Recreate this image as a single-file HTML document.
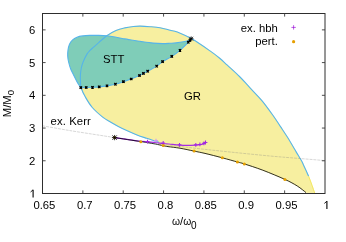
<!DOCTYPE html><html><head><meta charset="utf-8"><style>html,body{margin:0;padding:0;background:#fff;width:346px;height:242px;overflow:hidden}</style></head><body><svg width="346" height="242" viewBox="0 0 346 242" style="position:absolute;left:0;top:0;will-change:transform">
<rect width="346" height="242" fill="#fff"/>
<path d="M314.70,193.00 C314.25,191.72 313.02,188.10 312.00,185.30 C310.98,182.50 309.98,179.52 308.60,176.20 C307.22,172.88 304.82,167.83 303.70,165.40 C302.58,162.97 303.13,163.82 301.90,161.60 C300.67,159.38 298.70,156.15 296.30,152.10 C293.90,148.05 290.13,141.55 287.50,137.30 C284.87,133.05 282.97,130.32 280.50,126.60 C278.03,122.88 275.73,119.25 272.70,115.00 C269.67,110.75 265.53,105.05 262.30,101.10 C259.07,97.15 255.75,93.95 253.30,91.30 C250.85,88.65 249.90,87.67 247.60,85.20 C245.30,82.73 242.88,79.83 239.50,76.50 C236.12,73.17 230.55,68.20 227.30,65.20 C224.05,62.20 222.88,60.88 220.00,58.50 C217.12,56.12 214.65,54.13 210.00,50.90 C205.35,47.67 197.55,42.23 192.10,39.10 C186.65,35.97 180.98,33.58 177.30,32.10 C173.62,30.62 172.88,30.92 170.00,30.20 C167.12,29.48 163.33,28.38 160.00,27.80 C156.67,27.22 153.28,26.98 150.00,26.70 C146.72,26.42 143.07,26.13 140.30,26.10 C137.53,26.07 136.00,26.20 133.40,26.50 C130.80,26.80 127.60,27.23 124.70,27.90 C121.80,28.57 118.98,29.20 116.00,30.50 C113.02,31.80 109.68,33.68 106.80,35.70 C103.92,37.72 100.92,40.68 98.70,42.60 C96.48,44.52 94.95,45.90 93.50,47.20 C92.05,48.50 91.07,49.28 90.00,50.40 C88.93,51.52 88.25,51.97 87.10,53.90 C85.95,55.83 84.07,59.65 83.10,62.00 C82.13,64.35 81.75,65.83 81.30,68.00 C80.85,70.17 80.53,72.67 80.40,75.00 C80.27,77.33 80.37,79.83 80.50,82.00 C80.63,84.17 80.38,85.48 81.20,88.00 C82.02,90.52 83.55,93.85 85.40,97.10 C87.25,100.35 89.42,104.17 92.30,107.50 C95.18,110.83 99.75,114.72 102.70,117.10 C105.65,119.48 107.40,120.25 110.00,121.80 C112.60,123.35 115.42,124.92 118.30,126.40 C121.18,127.88 124.18,129.28 127.30,130.70 C130.42,132.12 133.77,133.63 137.00,134.90 C140.23,136.17 143.70,137.28 146.70,138.30 C149.70,139.32 152.95,140.33 155.00,141.00 C157.05,141.67 158.33,142.08 159.00,142.30 L159,144.6 L163.20,145.70 C164.00,145.85 165.20,146.18 168.00,146.60 C170.80,147.02 175.65,147.45 180.00,148.20 C184.35,148.95 189.93,150.23 194.10,151.10 C198.27,151.97 200.30,152.28 205.00,153.40 C209.70,154.52 216.90,156.37 222.30,157.80 C227.70,159.23 233.73,160.98 237.40,162.00 C241.07,163.02 240.07,162.53 244.30,163.90 C248.53,165.27 256.03,167.62 262.80,170.20 C269.57,172.78 279.15,176.77 284.90,179.40 C290.65,182.03 293.78,183.80 297.30,186.00 C300.82,188.20 304.55,191.50 306.00,192.60 Z" fill="#f7efa0" stroke="#f7efa0" stroke-width="0.8"/>
<path d="M80.80,87.60 C80.25,86.77 78.62,84.53 77.50,82.60 C76.38,80.67 75.23,78.27 74.10,76.00 C72.97,73.73 71.62,71.33 70.70,69.00 C69.78,66.67 69.10,64.17 68.60,62.00 C68.10,59.83 67.80,58.00 67.70,56.00 C67.60,54.00 67.70,51.97 68.00,50.00 C68.30,48.03 68.77,45.85 69.50,44.20 C70.23,42.55 71.15,41.27 72.40,40.10 C73.65,38.93 75.27,37.90 77.00,37.20 C78.73,36.50 80.68,36.20 82.80,35.90 C84.92,35.60 87.17,35.48 89.70,35.40 C92.23,35.32 95.15,35.33 98.00,35.40 C100.85,35.47 103.97,35.53 106.80,35.80 C109.63,36.07 112.02,36.48 115.00,37.00 C117.98,37.52 122.20,38.43 124.70,38.90 C127.20,39.37 127.18,39.35 130.00,39.80 C132.82,40.25 137.75,41.05 141.60,41.60 C145.45,42.15 149.63,42.77 153.10,43.10 C156.57,43.43 159.58,43.57 162.40,43.60 C165.22,43.63 167.73,43.42 170.00,43.30 C172.27,43.18 173.77,43.15 176.00,42.90 C178.23,42.65 181.30,42.22 183.40,41.80 C185.50,41.38 187.25,40.87 188.60,40.40 C189.95,39.93 191.02,39.23 191.50,39.00 L190.60,39.60 C190.27,40.03 190.37,40.42 188.60,42.20 C186.83,43.98 182.80,47.93 180.00,50.30 C177.20,52.67 174.70,54.52 171.80,56.40 C168.90,58.28 165.12,59.98 162.60,61.60 C160.08,63.22 159.18,64.50 156.70,66.10 C154.22,67.70 149.92,69.98 147.70,71.20 C145.48,72.42 144.77,72.68 143.40,73.40 C142.03,74.12 141.53,74.57 139.50,75.50 C137.47,76.43 133.88,77.97 131.20,79.00 C128.52,80.03 126.03,80.83 123.40,81.70 C120.77,82.57 118.13,83.50 115.40,84.20 C112.67,84.90 109.70,85.45 107.00,85.90 C104.30,86.35 101.62,86.67 99.20,86.90 C96.78,87.13 94.67,87.20 92.50,87.30 C90.33,87.40 88.15,87.45 86.20,87.50 C84.25,87.55 81.70,87.58 80.80,87.60 Z" fill="#7fcdb8" stroke="none"/>
<path d="M308.60,176.20 C307.78,174.40 304.82,167.83 303.70,165.40 C302.58,162.97 303.13,163.82 301.90,161.60 C300.67,159.38 298.70,156.15 296.30,152.10 C293.90,148.05 290.13,141.55 287.50,137.30 C284.87,133.05 282.97,130.32 280.50,126.60 C278.03,122.88 275.73,119.25 272.70,115.00 C269.67,110.75 265.53,105.05 262.30,101.10 C259.07,97.15 255.75,93.95 253.30,91.30 C250.85,88.65 249.90,87.67 247.60,85.20 C245.30,82.73 242.88,79.83 239.50,76.50 C236.12,73.17 230.55,68.20 227.30,65.20 C224.05,62.20 222.88,60.88 220.00,58.50 C217.12,56.12 214.65,54.13 210.00,50.90 C205.35,47.67 197.55,42.23 192.10,39.10 C186.65,35.97 180.98,33.58 177.30,32.10 C173.62,30.62 172.88,30.92 170.00,30.20 C167.12,29.48 163.33,28.38 160.00,27.80 C156.67,27.22 153.28,26.98 150.00,26.70 C146.72,26.42 143.07,26.13 140.30,26.10 C137.53,26.07 136.00,26.20 133.40,26.50 C130.80,26.80 127.60,27.23 124.70,27.90 C121.80,28.57 118.98,29.20 116.00,30.50 C113.02,31.80 109.68,33.68 106.80,35.70 C103.92,37.72 100.92,40.68 98.70,42.60 C96.48,44.52 94.95,45.90 93.50,47.20 C92.05,48.50 91.07,49.28 90.00,50.40 C88.93,51.52 88.25,51.97 87.10,53.90 C85.95,55.83 84.07,59.65 83.10,62.00 C82.13,64.35 81.75,65.83 81.30,68.00 C80.85,70.17 80.53,72.67 80.40,75.00 C80.27,77.33 80.37,79.83 80.50,82.00 C80.63,84.17 80.38,85.48 81.20,88.00 C82.02,90.52 83.55,93.85 85.40,97.10 C87.25,100.35 89.42,104.17 92.30,107.50 C95.18,110.83 99.75,114.72 102.70,117.10 C105.65,119.48 107.40,120.25 110.00,121.80 C112.60,123.35 115.42,124.92 118.30,126.40 C121.18,127.88 124.18,129.28 127.30,130.70 C130.42,132.12 133.77,133.63 137.00,134.90 C140.23,136.17 143.70,137.28 146.70,138.30 C149.70,139.32 152.95,140.33 155.00,141.00 C157.05,141.67 158.33,142.08 159.00,142.30" fill="none" stroke="#56b4e9" stroke-width="1.1"/>
<path d="M80.80,87.60 C80.25,86.77 78.62,84.53 77.50,82.60 C76.38,80.67 75.23,78.27 74.10,76.00 C72.97,73.73 71.62,71.33 70.70,69.00 C69.78,66.67 69.10,64.17 68.60,62.00 C68.10,59.83 67.80,58.00 67.70,56.00 C67.60,54.00 67.70,51.97 68.00,50.00 C68.30,48.03 68.77,45.85 69.50,44.20 C70.23,42.55 71.15,41.27 72.40,40.10 C73.65,38.93 75.27,37.90 77.00,37.20 C78.73,36.50 80.68,36.20 82.80,35.90 C84.92,35.60 87.17,35.48 89.70,35.40 C92.23,35.32 95.15,35.33 98.00,35.40 C100.85,35.47 103.97,35.53 106.80,35.80 C109.63,36.07 112.02,36.48 115.00,37.00 C117.98,37.52 122.20,38.43 124.70,38.90 C127.20,39.37 127.18,39.35 130.00,39.80 C132.82,40.25 137.75,41.05 141.60,41.60 C145.45,42.15 149.63,42.77 153.10,43.10 C156.57,43.43 159.58,43.57 162.40,43.60 C165.22,43.63 167.73,43.42 170.00,43.30 C172.27,43.18 173.77,43.15 176.00,42.90 C178.23,42.65 181.30,42.22 183.40,41.80 C185.50,41.38 187.25,40.87 188.60,40.40 C189.95,39.93 191.02,39.23 191.50,39.00" fill="none" stroke="#56b4e9" stroke-width="1.1"/>
<path d="M80.80,87.60 C81.70,87.58 84.25,87.55 86.20,87.50 C88.15,87.45 90.33,87.40 92.50,87.30 C94.67,87.20 96.78,87.13 99.20,86.90 C101.62,86.67 104.30,86.35 107.00,85.90 C109.70,85.45 112.67,84.90 115.40,84.20 C118.13,83.50 120.77,82.57 123.40,81.70 C126.03,80.83 128.52,80.03 131.20,79.00 C133.88,77.97 137.47,76.43 139.50,75.50 C141.53,74.57 142.03,74.12 143.40,73.40 C144.77,72.68 145.48,72.42 147.70,71.20 C149.92,69.98 154.22,67.70 156.70,66.10 C159.18,64.50 160.08,63.22 162.60,61.60 C165.12,59.98 168.90,58.28 171.80,56.40 C174.70,54.52 177.20,52.67 180.00,50.30 C182.80,47.93 186.83,43.98 188.60,42.20 C190.37,40.42 190.27,40.03 190.60,39.60" fill="none" stroke="#56b4e9" stroke-width="1.1"/>
<path d="M308.6,176.2 Q310.5,181 312,185.3 T314.7,193" fill="none" stroke="#f0e442" stroke-width="0.7"/>
<path d="M42.50,125.80 C47.08,126.60 60.42,129.02 70.00,130.60 C79.58,132.18 92.57,134.15 100.00,135.30 C107.43,136.45 106.27,136.28 114.60,137.50 C122.93,138.72 137.05,140.87 150.00,142.60 C162.95,144.33 178.97,146.33 192.30,147.90 C205.63,149.47 217.05,150.65 230.00,152.00 C242.95,153.35 258.17,154.90 270.00,156.00 C281.83,157.10 291.83,157.83 301.00,158.60 C310.17,159.37 321.00,160.27 325.00,160.60" fill="none" stroke="#808080" stroke-opacity="0.7" stroke-width="0.45" stroke-dasharray="3,0.9"/>
<path d="M114.60,137.55 C116.67,137.86 123.10,138.83 127.00,139.40 C130.90,139.97 134.58,140.58 138.00,141.00 C141.42,141.42 144.62,141.65 147.50,141.90 C150.38,142.15 152.68,142.23 155.30,142.50 C157.92,142.77 160.93,143.25 163.20,143.50 C165.47,143.75 166.18,143.73 168.90,144.00 C171.62,144.27 176.55,144.87 179.50,145.10 C182.45,145.33 183.88,145.40 186.60,145.40 C189.32,145.40 193.58,145.22 195.80,145.10 C198.02,144.98 198.55,144.95 199.90,144.70 C201.25,144.45 202.97,143.92 203.90,143.60 C204.83,143.28 205.23,142.93 205.50,142.80" fill="none" stroke="#a62ee2" stroke-width="1.25"/>
<path d="M114.60,137.60 C118.97,138.27 135.32,140.75 140.80,141.60 C146.28,142.45 145.08,142.30 147.50,142.70 C149.92,143.10 152.68,143.50 155.30,144.00 C157.92,144.50 161.08,145.27 163.20,145.70 C165.32,146.13 165.20,146.18 168.00,146.60 C170.80,147.02 175.65,147.45 180.00,148.20 C184.35,148.95 189.93,150.23 194.10,151.10 C198.27,151.97 200.30,152.28 205.00,153.40 C209.70,154.52 216.90,156.37 222.30,157.80 C227.70,159.23 233.73,160.98 237.40,162.00 C241.07,163.02 240.07,162.53 244.30,163.90 C248.53,165.27 256.03,167.62 262.80,170.20 C269.57,172.78 279.15,176.77 284.90,179.40 C290.65,182.03 293.78,183.80 297.30,186.00 C300.82,188.20 304.55,191.50 306.00,192.60" fill="none" stroke="#000" stroke-width="0.8"/>
<path d="M145.60,141.60h3.8M147.50,139.70v3.8" stroke="#a228e0" stroke-width="1.05" fill="none"/>
<path d="M154.10,140.60h3.8M156.00,138.70v3.8" stroke="#cf9aec" stroke-width="1.05" fill="none"/>
<path d="M161.30,143.00h3.8M163.20,141.10v3.8" stroke="#a228e0" stroke-width="1.05" fill="none"/>
<path d="M177.60,144.80h3.8M179.50,142.90v3.8" stroke="#a228e0" stroke-width="1.05" fill="none"/>
<path d="M193.90,144.80h3.8M195.80,142.90v3.8" stroke="#a228e0" stroke-width="1.05" fill="none"/>
<path d="M198.00,144.40h3.8M199.90,142.50v3.8" stroke="#a228e0" stroke-width="1.05" fill="none"/>
<path d="M202.00,143.30h3.8M203.90,141.40v3.8" stroke="#a228e0" stroke-width="1.05" fill="none"/>
<path d="M203.60,142.50h3.8M205.50,140.60v3.8" stroke="#a228e0" stroke-width="1.05" fill="none"/>
<circle cx="140.80" cy="141.70" r="1.5" fill="#e69f00"/>
<circle cx="163.20" cy="145.40" r="1.5" fill="#e69f00"/>
<circle cx="194.10" cy="151.10" r="1.5" fill="#e69f00"/>
<circle cx="222.30" cy="157.80" r="1.5" fill="#e69f00"/>
<circle cx="237.40" cy="162.00" r="1.5" fill="#e69f00"/>
<circle cx="244.30" cy="163.90" r="1.5" fill="#e69f00"/>
<circle cx="284.90" cy="179.40" r="1.5" fill="#e69f00"/>
<circle cx="114.6" cy="137.6" r="1.4" fill="#e69f00"/>
<path d="M79.60,86.40l2.40,2.40M79.60,88.80l2.40,-2.40" stroke="#000" stroke-width="1.15" fill="none"/><rect x="79.80" y="86.60" width="2" height="2" fill="#000"/>
<path d="M85.00,86.30l2.40,2.40M85.00,88.70l2.40,-2.40" stroke="#000" stroke-width="1.15" fill="none"/><rect x="85.20" y="86.50" width="2" height="2" fill="#000"/>
<path d="M91.30,86.10l2.40,2.40M91.30,88.50l2.40,-2.40" stroke="#000" stroke-width="1.15" fill="none"/><rect x="91.50" y="86.30" width="2" height="2" fill="#000"/>
<path d="M98.00,85.70l2.40,2.40M98.00,88.10l2.40,-2.40" stroke="#000" stroke-width="1.15" fill="none"/><rect x="98.20" y="85.90" width="2" height="2" fill="#000"/>
<path d="M105.80,84.70l2.40,2.40M105.80,87.10l2.40,-2.40" stroke="#000" stroke-width="1.15" fill="none"/><rect x="106.00" y="84.90" width="2" height="2" fill="#000"/>
<path d="M114.20,83.00l2.40,2.40M114.20,85.40l2.40,-2.40" stroke="#000" stroke-width="1.15" fill="none"/><rect x="114.40" y="83.20" width="2" height="2" fill="#000"/>
<path d="M122.20,80.50l2.40,2.40M122.20,82.90l2.40,-2.40" stroke="#000" stroke-width="1.15" fill="none"/><rect x="122.40" y="80.70" width="2" height="2" fill="#000"/>
<path d="M130.00,77.80l2.40,2.40M130.00,80.20l2.40,-2.40" stroke="#000" stroke-width="1.15" fill="none"/><rect x="130.20" y="78.00" width="2" height="2" fill="#000"/>
<path d="M138.30,74.30l2.40,2.40M138.30,76.70l2.40,-2.40" stroke="#000" stroke-width="1.15" fill="none"/><rect x="138.50" y="74.50" width="2" height="2" fill="#000"/>
<path d="M142.20,72.20l2.40,2.40M142.20,74.60l2.40,-2.40" stroke="#000" stroke-width="1.15" fill="none"/><rect x="142.40" y="72.40" width="2" height="2" fill="#000"/>
<path d="M146.50,70.00l2.40,2.40M146.50,72.40l2.40,-2.40" stroke="#000" stroke-width="1.15" fill="none"/><rect x="146.70" y="70.20" width="2" height="2" fill="#000"/>
<path d="M155.50,64.90l2.40,2.40M155.50,67.30l2.40,-2.40" stroke="#000" stroke-width="1.15" fill="none"/><rect x="155.70" y="65.10" width="2" height="2" fill="#000"/>
<path d="M161.40,60.40l2.40,2.40M161.40,62.80l2.40,-2.40" stroke="#000" stroke-width="1.15" fill="none"/><rect x="161.60" y="60.60" width="2" height="2" fill="#000"/>
<path d="M170.60,55.20l2.40,2.40M170.60,57.60l2.40,-2.40" stroke="#000" stroke-width="1.15" fill="none"/><rect x="170.80" y="55.40" width="2" height="2" fill="#000"/>
<path d="M178.80,49.10l2.40,2.40M178.80,51.50l2.40,-2.40" stroke="#000" stroke-width="1.15" fill="none"/><rect x="179.00" y="49.30" width="2" height="2" fill="#000"/>
<path d="M187.10,41.00l2.40,2.40M187.10,43.40l2.40,-2.40" stroke="#000" stroke-width="1.15" fill="none"/><rect x="187.30" y="41.20" width="2" height="2" fill="#000"/>
<path d="M188.70,39.30l2.40,2.40M188.70,41.70l2.40,-2.40" stroke="#000" stroke-width="1.15" fill="none"/><rect x="188.90" y="39.50" width="2" height="2" fill="#000"/>
<path d="M112.40,135.40l4.40,4.40M112.40,139.80l4.40,-4.40M114.60,134.96v5.28M111.96,137.60h5.28" stroke="#000" stroke-width="0.8" fill="none"/>
<path d="M189.30,36.80l3.80,3.80M189.30,40.60l3.80,-3.80M191.20,36.42v4.56M188.92,38.70h4.56" stroke="#000" stroke-width="0.8" fill="none"/>
<rect x="42.5" y="13.5" width="282.5" height="180" fill="none" stroke="#2e2e2e" stroke-width="1"/>
<path d="M82.86,193.5v-3.1M82.86,13.5v3.1" stroke="#3a3a3a" stroke-width="0.9"/>
<path d="M123.21,193.5v-3.1M123.21,13.5v3.1" stroke="#3a3a3a" stroke-width="0.9"/>
<path d="M163.57,193.5v-3.1M163.57,13.5v3.1" stroke="#3a3a3a" stroke-width="0.9"/>
<path d="M203.93,193.5v-3.1M203.93,13.5v3.1" stroke="#3a3a3a" stroke-width="0.9"/>
<path d="M244.29,193.5v-3.1M244.29,13.5v3.1" stroke="#3a3a3a" stroke-width="0.9"/>
<path d="M284.64,193.5v-3.1M284.64,13.5v3.1" stroke="#3a3a3a" stroke-width="0.9"/>
<path d="M42.5,160.77h3.1M325,160.77h-3.1" stroke="#3a3a3a" stroke-width="0.9"/>
<path d="M42.5,128.05h3.1M325,128.05h-3.1" stroke="#3a3a3a" stroke-width="0.9"/>
<path d="M42.5,95.32h3.1M325,95.32h-3.1" stroke="#3a3a3a" stroke-width="0.9"/>
<path d="M42.5,62.59h3.1M325,62.59h-3.1" stroke="#3a3a3a" stroke-width="0.9"/>
<path d="M42.5,29.86h3.1M325,29.86h-3.1" stroke="#3a3a3a" stroke-width="0.9"/>
<text x="35.4" y="164.77" text-anchor="end" font-family="Liberation Sans, sans-serif" font-size="11.3" fill="#000">2</text>
<text x="35.4" y="132.05" text-anchor="end" font-family="Liberation Sans, sans-serif" font-size="11.3" fill="#000">3</text>
<text x="35.4" y="99.32" text-anchor="end" font-family="Liberation Sans, sans-serif" font-size="11.3" fill="#000">4</text>
<text x="35.4" y="66.59" text-anchor="end" font-family="Liberation Sans, sans-serif" font-size="11.3" fill="#000">5</text>
<text x="35.4" y="33.86" text-anchor="end" font-family="Liberation Sans, sans-serif" font-size="11.3" fill="#000">6</text>
<path d="M33.10,189.70V197.40" stroke="#000" stroke-width="1.1" fill="none"/><path d="M30.60,192.00L33.00,189.90" stroke="#000" stroke-width="0.9" fill="none"/>
<path d="M326.90,201.10V208.90" stroke="#000" stroke-width="1.1" fill="none"/><path d="M324.40,203.40L326.80,201.30" stroke="#000" stroke-width="0.9" fill="none"/>
<text x="44.40" y="208.9" text-anchor="middle" font-family="Liberation Sans, sans-serif" font-size="11.3" fill="#000">0.65</text>
<text x="84.76" y="208.9" text-anchor="middle" font-family="Liberation Sans, sans-serif" font-size="11.3" fill="#000">0.7</text>
<text x="125.11" y="208.9" text-anchor="middle" font-family="Liberation Sans, sans-serif" font-size="11.3" fill="#000">0.75</text>
<text x="165.47" y="208.9" text-anchor="middle" font-family="Liberation Sans, sans-serif" font-size="11.3" fill="#000">0.8</text>
<text x="205.83" y="208.9" text-anchor="middle" font-family="Liberation Sans, sans-serif" font-size="11.3" fill="#000">0.85</text>
<text x="246.19" y="208.9" text-anchor="middle" font-family="Liberation Sans, sans-serif" font-size="11.3" fill="#000">0.9</text>
<text x="286.54" y="208.9" text-anchor="middle" font-family="Liberation Sans, sans-serif" font-size="11.3" fill="#000">0.95</text>
<text x="277.9" y="31.8" text-anchor="end" font-family="Liberation Sans, sans-serif" font-size="11.3" fill="#000">ex. hbh</text>
<text x="277.9" y="45.2" text-anchor="end" font-family="Liberation Sans, sans-serif" font-size="11.3" fill="#000">pert.</text>
<path d="M291.4,27.4h4.4M293.6,25.2v4.4" stroke="#9400d3" stroke-width="0.65" fill="none"/>
<circle cx="293.6" cy="41.7" r="1.6" fill="#e69f00"/>
<text x="103" y="63.4" font-family="Liberation Sans, sans-serif" font-size="11.3" fill="#000">STT</text>
<text x="183.9" y="99.6" font-family="Liberation Sans, sans-serif" font-size="11.3" fill="#000">GR</text>
<text x="50.6" y="125.4" textLength="40.2" font-family="Liberation Sans, sans-serif" font-size="11.3" fill="#000">ex. Kerr</text>
<text x="172.0" y="224.7" font-family="Liberation Sans, sans-serif" font-size="11.3" fill="#000"><tspan font-size="10.3">ω</tspan>/<tspan font-size="10.3">ω</tspan><tspan font-size="10" dy="4.1" dx="-0.3">0</tspan></text>
<text transform="translate(10.8,117.2) rotate(-90)" font-family="Liberation Sans, sans-serif" font-size="11.3" fill="#000">M/M<tspan font-size="9.6" dy="3.3">0</tspan></text>
</svg></body></html>
